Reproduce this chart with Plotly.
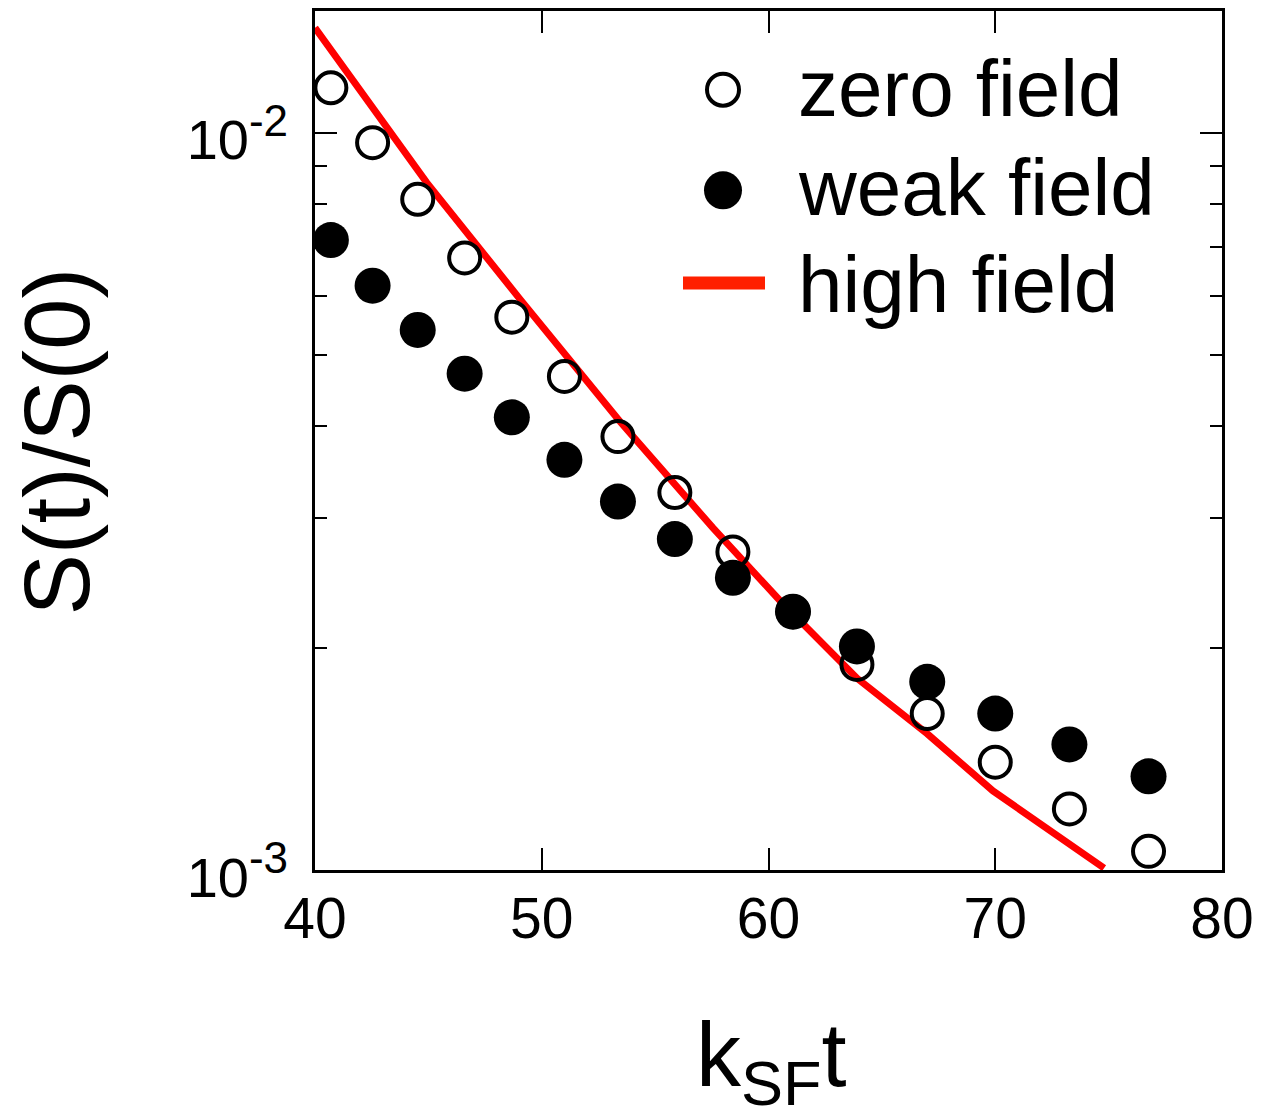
import plotly.graph_objects as go

# ---- data ----
x_pts = [40.7, 42.54, 44.53, 46.6, 48.68, 51.0, 53.36, 55.87, 58.43, 61.08, 63.9, 67.0, 70.0, 73.27, 76.76]
zero_field = [0.01150, 0.00969, 0.00812, 0.00676, 0.00562, 0.00467, 0.00387, 0.00325, 0.00270,
              0.00224, 0.00190, 0.00163, 0.00140, 0.00121, 0.00106]
weak_field = [0.00715, 0.00620, 0.00540, 0.00471, 0.00411, 0.00360, 0.00316, 0.00281, 0.00249,
              0.00224, 0.00201, 0.00180, 0.00163, 0.00148, 0.00134]
high_x = [40.0, 44.92, 49.03, 53.44, 57.55, 60.5, 63.9, 67.0, 69.9, 73.2, 74.8]
high_field = [0.01387, 0.00856, 0.00595, 0.00406, 0.00291, 0.00232, 0.00182, 0.00153, 0.00128, 0.001088, 0.001006]

x_ticks = [40, 50, 60, 70, 80]
y_ticks = [0.001, 0.01]
y_ticktext = ["10<sup><span style='font-size:44px'>-3</span></sup>",
              "10<sup><span style='font-size:44px'>-2</span></sup>"]
y_minor = [0.002, 0.003, 0.004, 0.005, 0.006, 0.007, 0.008, 0.009, 0.02]
legend_names = ["zero field", "weak field", "high field"]

FONT = "Liberation Sans, Arial, sans-serif"
OFF = 8  # page offset of the figure inside the browser window
W, H = 1271, 1111
L, T = 315 - OFF, 0
PLOT_BOTTOM = 870 - OFF
PLOT_RIGHT = 1222 - OFF
R, B = W - PLOT_RIGHT, H - PLOT_BOTTOM
PW, PH = W - L - R, H - T - B

def px(xp):
    return (xp - OFF - L) / PW

def py(yp):
    return (PLOT_BOTTOM - (yp - OFF)) / PH

fig = go.Figure()
fig.add_trace(go.Scatter(x=high_x, y=high_field, mode="lines", name=legend_names[2],
                         line=dict(color="#ff0000", width=7), showlegend=False))
fig.add_trace(go.Scatter(x=x_pts, y=zero_field, mode="markers", name=legend_names[0],
                         marker=dict(symbol="circle-open", size=31, color="black",
                                     line=dict(width=4, color="black")), showlegend=False))
fig.add_trace(go.Scatter(x=x_pts, y=weak_field, mode="markers", name=legend_names[1],
                         marker=dict(symbol="circle", size=36, color="black"), showlegend=False))

axis_common = dict(showline=True, linecolor="black", linewidth=2.5, mirror="ticks",
                   ticks="inside", ticklen=22, tickwidth=2, tickcolor="black",
                   showgrid=False, zeroline=False)

fig.update_xaxes(range=[40, 80], tickvals=x_ticks, ticktext=[str(v) for v in x_ticks],
                 ticklabelstandoff=-3, tickfont=dict(family=FONT, size=57, color="black"),
                 **axis_common)
fig.update_yaxes(type="log", range=[-3, -3 + PH / 740.0], tickvals=y_ticks, ticktext=y_ticktext,
                 ticklabelstandoff=13, ticklabelshift=7,
                 tickfont=dict(family=FONT, size=56, color="black"),
                 minor=dict(tickvals=y_minor, ticks="inside", ticklen=12, tickwidth=2,
                            tickcolor="black", showgrid=False),
                 **axis_common)

# axis titles
ann = [
    dict(text="k<sub>SF</sub>t", x=px(771), y=py(1062), xref="paper", yref="paper",
         showarrow=False, xanchor="center", yanchor="middle",
         font=dict(family=FONT, size=90, color="black")),
    dict(text="S(t)/S(0)", x=px(57), y=py(440), xref="paper", yref="paper",
         showarrow=False, xanchor="center", yanchor="middle", textangle=-90,
         font=dict(family=FONT, size=92, color="black")),
]
# legend texts
for name, yrow in zip(legend_names, [86, 185, 282]):
    ann.append(dict(text=name, x=px(796), y=py(yrow), xref="paper", yref="paper",
                    showarrow=False, xanchor="left", yanchor="middle",
                    font=dict(family=FONT, size=80, color="black")))

shapes = [
    dict(type="circle", xref="paper", yref="paper", xsizemode="pixel", ysizemode="pixel",
         xanchor=px(723), yanchor=py(87), x0=-16, x1=16, y0=-16, y1=16,
         line=dict(color="black", width=4), fillcolor="rgba(0,0,0,0)"),
    dict(type="circle", xref="paper", yref="paper", xsizemode="pixel", ysizemode="pixel",
         xanchor=px(723), yanchor=py(188), x0=-19, x1=19, y0=-19, y1=19,
         line=dict(color="black", width=0), fillcolor="black"),
    dict(type="line", xref="paper", yref="paper", x0=px(683), x1=px(765), y0=py(281), y1=py(281),
         line=dict(color="#ff2000", width=13)),
]

fig.update_layout(width=W, height=H, margin=dict(l=L, r=R, t=T, b=B, pad=0),
                  paper_bgcolor="white", plot_bgcolor="white",
                  annotations=ann, shapes=shapes, showlegend=False)

fig.write_html("out.html")
